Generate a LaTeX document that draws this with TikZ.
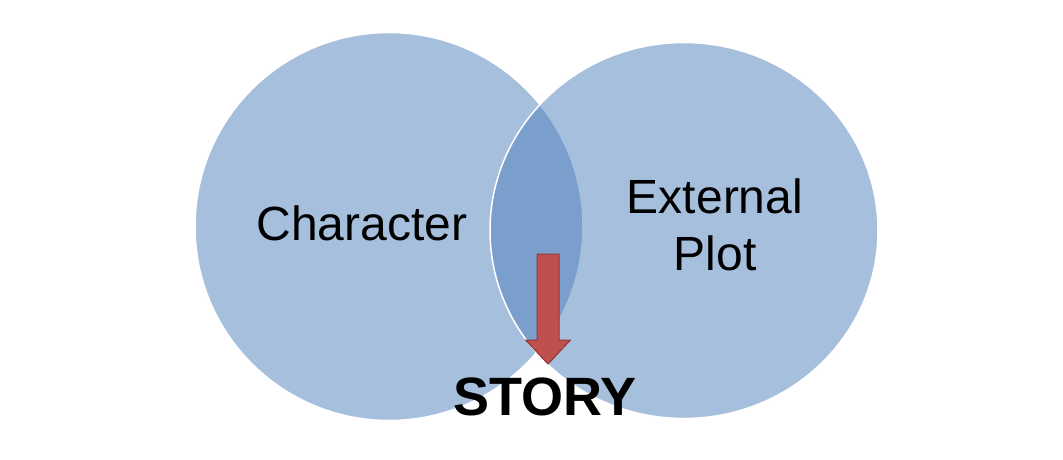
\documentclass[tikz,border=0pt]{standalone}
\usepackage{fontspec}
\setmainfont{Liberation Sans}
\usetikzlibrary{shapes.geometric}
\definecolor{vennblue}{HTML}{4F81BD}
\definecolor{arrowred}{HTML}{C0504D}
\definecolor{arrowedge}{HTML}{8C3836}
\tikzset{
  venn/.style={fill=vennblue, fill opacity=0.5, draw=white, draw opacity=1, line width=1.5pt, inner sep=0pt},
  label48/.style={font=\fontsize{48}{57}\selectfont, text=black, align=center, inner sep=0pt},
  storylabel/.style={font=\fontsize{54}{60}\selectfont\bfseries, text=black, inner sep=0pt},
}
\begin{document}
\begin{tikzpicture}[x=1pt,y=-1pt]
\useasboundingbox (0,0) rectangle (1063,459);
\fill[white] (0,0) rectangle (1063,459);
\node[venn, circle, minimum size=388pt] (char) at (389,226.5) {};
\node[venn, ellipse, minimum width=388pt, minimum height=376pt] (plot) at (684,230.5) {};
\node[label48, anchor=base] (chartext) at (362,240) {Character};
\node[label48, anchor=base] (plottext) at (715,270) {External\\Plot};
\fill[arrowred, draw=arrowedge, line width=1pt]
  (537,254) -- (559,254) -- (559,340) -- (570.5,340) -- (548,364) -- (525.5,340) -- (537,340) -- cycle;
\node[storylabel, anchor=base] (story) at (545,415) {STORY};
\end{tikzpicture}
\end{document}
